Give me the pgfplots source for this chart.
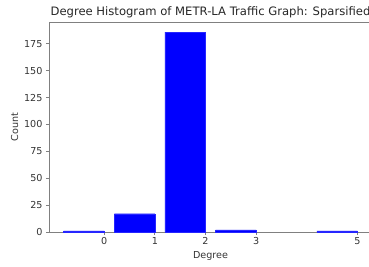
\documentclass[border=0pt]{standalone}
\usepackage{pgfplots}
\pgfplotsset{compat=1.18}
\usepackage{fontspec}
\setmainfont{DejaVu Sans}
\begin{document}
\begin{tikzpicture}[x=1pt,y=1pt]
\begin{axis}[
  at={(0,0)}, anchor=south west,
  scale only axis, width=323pt, height=210pt,
  xmin=-1.09, xmax=5.29, ymin=0, ymax=195.3,
  xtick={0,1,2,3,5}, ytick={0,25,50,75,100,125,150,175},
  tick align=outside, tick pos=left,
  major tick length=3pt,
  axis line style={draw=black!50, line width=0.8pt},
  every tick/.style={black!50, line width=0.8pt},
  tick label style={font=\fontsize{9.6}{11}\selectfont, text=black!80},
  xticklabel style={yshift=1pt},
  /pgf/number format/assume math mode=true,
  xlabel={Degree}, ylabel={Count},
  label style={font=\fontsize{9.6}{11}\selectfont, text=black!80},
  xlabel style={yshift=0pt},
  ylabel style={yshift=-1pt},
  title={Degree Histogram of METR-LA Traffic Graph: Sparsified},
  title style={font=\fontsize{11.6}{13}\selectfont, text=black!85, yshift=-5pt},
  clip=false,
]
\addplot[ybar, bar width=0.8, bar shift=-0.4, fill=blue, draw=blue!85!white, line width=0.4pt]
  coordinates {(0,1) (1,17) (2,186) (3,2) (5,1)};
\end{axis}
\pgfresetboundingbox
\useasboundingbox (-49pt,-34pt) rectangle (320pt,232pt);
\end{tikzpicture}
\end{document}
